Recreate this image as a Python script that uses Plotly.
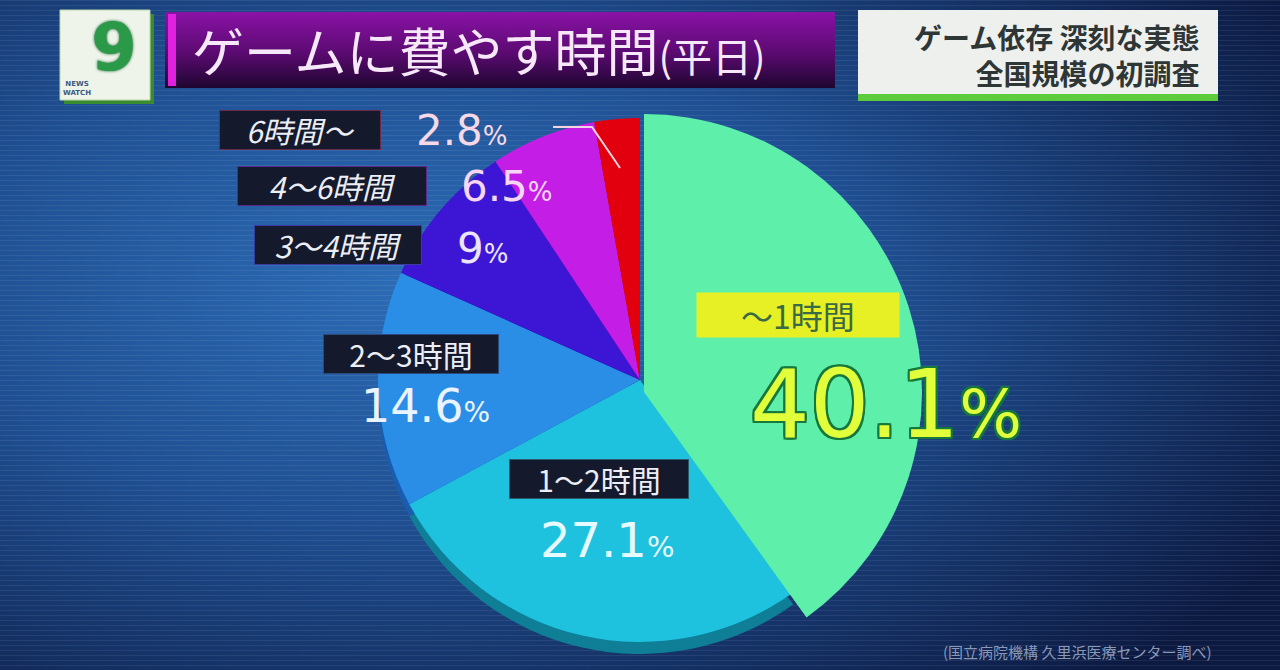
import base64
import plotly.graph_objects as go

# ---------------- data ----------------
categories = ["～1時間", "1～2時間", "2～3時間", "3～4時間", "4～6時間", "6時間～"]
values = [40.1, 27.1, 14.6, 9, 6.5, 2.8]
slice_colors = ["#5ef0aa", "#1ec2de", "#2a8ee6", "#3c16d4", "#c41ee6", "#e2000e"]
side_colors = ["#2aa070", "#0f7f98", "#1a5cae", "#240c8a", "#7a1094", "#900008"]

W, H = 1280, 670
T = "rgba(0,0,0,0)"
JP = "Noto Sans CJK JP"
NUM = "DejaVu Sans"


def dom(cx, cy, r):
    yb = H - cy
    return dict(x=[(cx - r) / W, (cx + r) / W], y=[(yb - r) / H, (yb + r) / H])


def P(x, y):
    return x / W, 1 - y / H


fig = go.Figure()

common = dict(labels=categories, values=values, sort=False, direction="clockwise",
              rotation=0, textinfo="none", hoverinfo="skip", showlegend=False)

# side (thickness) of the smaller slices
fig.add_trace(go.Pie(**common, domain=dom(640, 392, 262),
                     marker=dict(colors=[T] + side_colors[1:], line=dict(width=0))))
# smaller slices
fig.add_trace(go.Pie(**common, domain=dom(640, 380, 262),
                     marker=dict(colors=[T] + slice_colors[1:], line=dict(width=0))))
# enlarged first slice
fig.add_trace(go.Pie(**common, domain=dom(644, 392, 278),
                     marker=dict(colors=[slice_colors[0]] + [T] * 5, line=dict(width=0))))

# ---------------- background ----------------
svg = f'''<svg xmlns="http://www.w3.org/2000/svg" width="{W}" height="{H}">
<defs>
<radialGradient id="g" cx="0.32" cy="0.42" r="0.8">
<stop offset="0" stop-color="#2c6cb6"/>
<stop offset="0.45" stop-color="#1f4f92"/>
<stop offset="1" stop-color="#0c1a42"/>
</radialGradient>
<linearGradient id="t" x1="0" y1="0" x2="0" y2="1">
<stop offset="0" stop-color="#8a12a6"/>
<stop offset="0.55" stop-color="#5a0a70"/>
<stop offset="1" stop-color="#1e0630"/>
</linearGradient>
<pattern id="p" width="6" height="5" patternUnits="userSpaceOnUse">
<rect width="6" height="1" fill="#ffffff" fill-opacity="0.07"/>
</pattern>
</defs>
<rect width="{W}" height="{H}" fill="url(#g)"/>
<rect width="{W}" height="{H}" fill="url(#p)"/>
<rect x="165" y="12" width="670" height="76" fill="url(#t)"/>
</svg>'''
src = "data:image/svg+xml;base64," + base64.b64encode(svg.encode()).decode()

shapes = []


def rect(x0, y0, x1, y1, fill, line=None, lw=0):
    a, b = P(x0, y0)
    c, d = P(x1, y1)
    shapes.append(dict(type="rect", xref="paper", yref="paper", x0=a, y0=d, x1=c, y1=b,
                       fillcolor=fill, line=dict(color=line or fill, width=lw), layer="above"))


# logo
rect(64, 14, 154, 104, "#3a8a30")
rect(60, 10, 150, 100, "#eef4ea", "#b8d8a8", 1)
# title bar accent
rect(168, 14, 176, 86, "#e022e0")
# top-right box
rect(858, 10, 1218, 100, "#eef0ee")
rect(858, 94, 1218, 101, "#5ccc3c")

# leader line for the smallest slice
x1, y1 = P(553, 127)
x2, y2 = P(592, 127)
x3, y3 = P(620, 168)
shapes.append(dict(type="path", xref="paper", yref="paper",
                   path=f"M {x1},{y1} L {x2},{y2} L {x3},{y3}",
                   line=dict(color="#f0d6e4", width=2), layer="above"))

ann = []


def text(x, y, t, size, color, family=JP, xanchor="center", bg=None, border=None,
         pad=4, style="normal", weight="normal", shadow="none", width=None,
         height=None, align="center"):
    a, b = P(x, y)
    d = dict(x=a, y=b, xref="paper", yref="paper", text=t, showarrow=False,
             xanchor=xanchor, yanchor="middle", align=align,
             font=dict(size=size, color=color, family=family, style=style,
                       weight=weight, shadow=shadow))
    if bg:
        d.update(bgcolor=bg, borderpad=pad)
    if border:
        d.update(bordercolor=border, borderwidth=1)
    if width:
        d.update(width=width)
    if height:
        d.update(height=height)
    ann.append(d)


# logo text
text(114, 48, "9", 66, "#2a9a48", family=NUM, weight="bold",
     shadow="0 0 3px #0a5a28")
text(77, 88, "NEWS<br>WATCH", 7, "#3a5a80", family=NUM, weight="bold")

# title
text(190, 50, f"ゲームに費やす時間<span style='font-size:40px'>(平日)</span>", 52,
     "#f6e8f8", xanchor="left")
# subtitle box
text(1202, 55, "ゲーム依存 深刻な実態<br>全国規模の初調査", 28, "#2e3636",
     xanchor="right", weight="bold", align="right")

# slice labels
lab_bg = "#141a2c"
label_pos = {
    "6時間～": (300, 130, 156),
    "4～6時間": (332, 186, 184),
    "3～4時間": (338, 245, 162),
    "2～3時間": (411, 354, 170),
    "1～2時間": (599, 479, 174),
}
label_border = {
    "6時間～": "#6a2a4a",
    "4～6時間": "#5a2a8a",
    "3～4時間": "#3a3aa0",
    "2～3時間": "#2a4a7a",
    "1～2時間": "#2a5a6a",
}
pct_pos = {
    "6時間～": (462, 130),
    "4～6時間": (507, 186),
    "3～4時間": (482, 248),
    "2～3時間": (425, 406),
    "1～2時間": (607, 540),
}
pct_col = {
    "6時間～": "#f6d8e6",
    "4～6時間": "#f6d6f2",
    "3～4時間": "#ece4ff",
    "2～3時間": "#eaf4ff",
    "1～2時間": "#e6fbff",
}
pct_size = {"6時間～": 42, "4～6時間": 42, "3～4時間": 42, "2～3時間": 46, "1～2時間": 48}

for cat, v in zip(categories, values):
    num = f"{v:g}"
    if cat in label_pos:
        lx, ly, lw = label_pos[cat]
        text(lx, ly, cat, 30, "#eceef6", bg=lab_bg, border=label_border[cat], pad=2,
             width=lw, height=34,
             style="italic" if cat in ("6時間～", "4～6時間", "3～4時間") else "normal")
        px_, py_ = pct_pos[cat]
        s = pct_size[cat]
        text(px_, py_, f"{num}<span style='font-size:{int(s*0.62)}px'>%</span>", s,
             pct_col[cat], family=NUM)
    else:
        text(798, 315, cat, 32, "#3a6a44", bg="#e6f024", pad=3, width=196, height=38)
        text(886, 404, f"{num}<span style='font-size:66px'>%</span>", 94, "#e2ff3c",
             family=NUM,
             shadow="2px 0 0 #16783a, -2px 0 0 #16783a, 0 2px 0 #16783a, 0 -2px 0 #16783a, "
                    "2px 2px 0 #16783a, -2px -2px 0 #16783a, 2px -2px 0 #16783a, -2px 2px 0 #16783a")

# source
text(1214, 651, "(国立病院機構 久里浜医療センター調べ)", 15, "#8a98b8", xanchor="right")

fig.update_layout(
    width=W, height=H, autosize=False,
    margin=dict(l=0, r=0, t=0, b=0),
    paper_bgcolor="#14306a", plot_bgcolor="rgba(0,0,0,0)",
    images=[dict(source=src, xref="paper", yref="paper", x=0, y=1, sizex=1, sizey=1,
                 xanchor="left", yanchor="top", sizing="stretch", layer="below")],
    shapes=shapes,
    annotations=ann,
)

fig.write_html("out.html", config={"displayModeBar": False},
               post_script="document.body.style.margin='0';")
